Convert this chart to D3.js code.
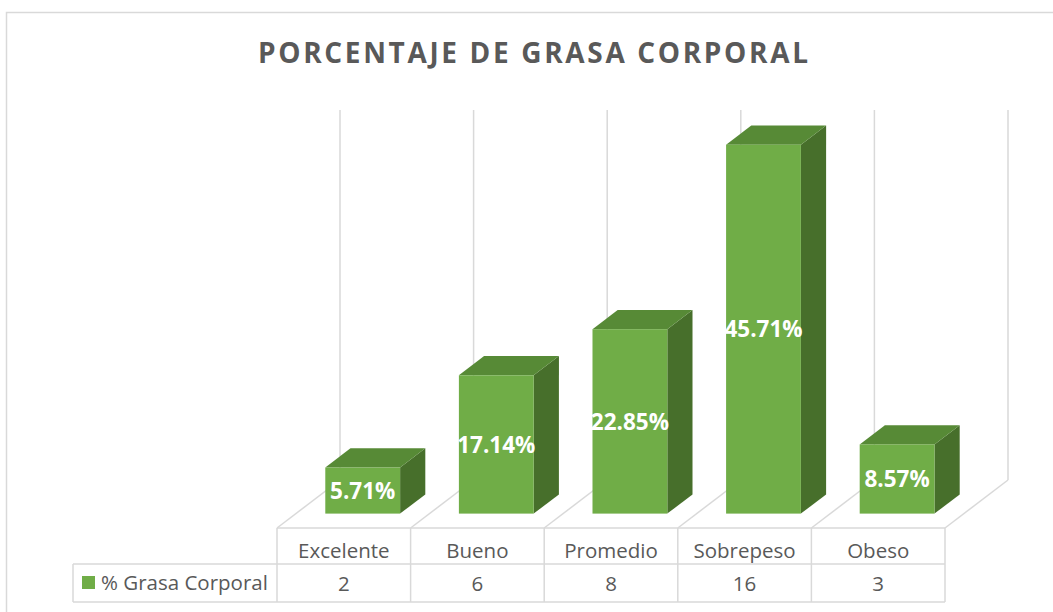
<!DOCTYPE html>
<html>
<head>
<meta charset="utf-8">
<script src="https://cdn.jsdelivr.net/npm/d3@7"></script>
<style>
    body { margin: 0; background: #ffffff; }
    svg { display: block; }
</style>
</head>
<body>
<div id="chart"></div>
<script>
// data
var categories = ["Excelente", "Bueno", "Promedio", "Sobrepeso", "Obeso"];
var counts = [2, 6, 8, 16, 3];
var percents = [5.71, 17.14, 22.85, 45.71, 8.57];
var percentLabels = ["5.71%", "17.14%", "22.85%", "45.71%", "8.57%"];
var seriesName = "% Grasa Corporal";
var title = "PORCENTAJE DE GRASA CORPORAL";

var width = 1053, height = 612;
var gridColor = "#d9d9d9", textColor = "#595959";

var svg = d3.select("#chart")
    .append("svg")
    .attr("width", width)
    .attr("height", height);

// outer chart border (runs past the picture edge)
svg.append("rect")
    .attr("x", 6.5)
    .attr("y", 12.5)
    .attr("width", 1060)
    .attr("height", 620)
    .attr("fill", "#ffffff")
    .attr("stroke", gridColor)
    .attr("stroke-width", 1.5);

// title
svg.append("text")
    .attr("x", 533)
    .attr("y", 63)
    .attr("text-anchor", "middle")
    .attr("textLength", 550)
    .attr("lengthAdjust", "spacing")
    .style("font-family", "Open Sans")
    .style("font-weight", "bold")
    .style("font-size", "28px")
    .style("fill", textColor)
    .text(title);

// scales
var floorFront = 528;            // front edge of the floor
var depth = { dx: 63, dy: -48 }; // full depth of the floor

var x = d3.scaleBand()
    .domain(categories)
    .range([277, 945]);

var y = d3.scaleLinear()
    .domain([0, 50])
    .range([0, 403.5]);

var wallMax = 45.85;
var barFrac = 0.56;   // bar width / band
var barDepth = 0.4;   // bar depth / floor depth
var barFrontAt = (1 - barDepth) / 2;

// back wall gridlines
var edges = categories.map(function (c) { return x(c); }).concat([x.range()[1]]);
svg.selectAll("line.wall")
    .data(edges)
    .enter()
    .append("line")
    .attr("x1", function (d) { return d + depth.dx; })
    .attr("x2", function (d) { return d + depth.dx; })
    .attr("y1", floorFront + depth.dy)
    .attr("y2", floorFront + depth.dy - y(wallMax))
    .attr("stroke", gridColor)
    .attr("stroke-width", 1.5);

// floor depth lines
svg.selectAll("line.floor")
    .data(edges)
    .enter()
    .append("line")
    .attr("x1", function (d) { return d; })
    .attr("y1", floorFront)
    .attr("x2", function (d) { return d + depth.dx; })
    .attr("y2", floorFront + depth.dy)
    .attr("stroke", gridColor)
    .attr("stroke-width", 1.5);

// bars
var bw = x.bandwidth() * barFrac;
var ddx = depth.dx * barDepth, ddy = depth.dy * barDepth;

var bars = svg.selectAll("g.bar")
    .data(categories.map(function (c, i) { return { cat: c, value: percents[i], label: percentLabels[i] }; }))
    .enter()
    .append("g");

function geom(d) {
    var x0 = x(d.cat) + (x.bandwidth() - bw) / 2 + depth.dx * barFrontAt;
    var yb = floorFront + depth.dy * barFrontAt;
    var yt = yb - y(d.value);
    return { x0: x0, yb: yb, yt: yt };
}

bars.append("polygon")
    .attr("points", function (d) {
        var g = geom(d);
        return [[g.x0 + bw, g.yt], [g.x0 + bw + ddx, g.yt + ddy], [g.x0 + bw + ddx, g.yb + ddy], [g.x0 + bw, g.yb]].join(" ");
    })
    .attr("fill", "#476f2b");

bars.append("polygon")
    .attr("points", function (d) {
        var g = geom(d);
        return [[g.x0, g.yt], [g.x0 + bw, g.yt], [g.x0 + bw + ddx, g.yt + ddy], [g.x0 + ddx, g.yt + ddy]].join(" ");
    })
    .attr("fill", "#578a36");

bars.append("rect")
    .attr("x", function (d) { return geom(d).x0; })
    .attr("y", function (d) { return geom(d).yt; })
    .attr("width", bw)
    .attr("height", function (d) { return y(d.value); })
    .attr("fill", "#70ad47");

bars.append("text")
    .attr("x", function (d) { return geom(d).x0 + bw / 2; })
    .attr("y", function (d) { var g = geom(d); return (g.yt + g.yb) / 2; })
    .attr("dy", "0.36em")
    .attr("text-anchor", "middle")
    .style("font-family", "Open Sans")
    .style("font-weight", "bold")
    .style("font-size", "22.5px")
    .style("fill", "#ffffff")
    .text(function (d) { return d.label; });

// data table
var row1 = 528, row2 = 564, row3 = 602, legendLeft = 73;
var x1 = x.range()[0], x2 = x.range()[1];

var table = svg.append("g")
    .attr("stroke", gridColor)
    .attr("stroke-width", 1.5);

table.append("line").attr("x1", x1).attr("x2", x2).attr("y1", row1).attr("y2", row1);
table.append("line").attr("x1", legendLeft).attr("x2", x2).attr("y1", row2).attr("y2", row2);
table.append("line").attr("x1", legendLeft).attr("x2", x2).attr("y1", row3).attr("y2", row3);
table.append("line").attr("x1", legendLeft).attr("x2", legendLeft).attr("y1", row2).attr("y2", row3);

table.selectAll("line.col")
    .data(edges)
    .enter()
    .append("line")
    .attr("x1", function (d) { return d; })
    .attr("x2", function (d) { return d; })
    .attr("y1", row1)
    .attr("y2", row3);

svg.selectAll("text.cat")
    .data(categories)
    .enter()
    .append("text")
    .attr("x", function (d) { return x(d) + x.bandwidth() / 2; })
    .attr("y", 558)
    .attr("text-anchor", "middle")
    .style("font-family", "Open Sans")
    .style("font-size", "20.5px")
    .style("fill", textColor)
    .text(function (d) { return d; });

svg.selectAll("text.val")
    .data(counts)
    .enter()
    .append("text")
    .attr("x", function (d, i) { return x(categories[i]) + x.bandwidth() / 2; })
    .attr("y", 591)
    .attr("text-anchor", "middle")
    .style("font-family", "Open Sans")
    .style("font-size", "20.5px")
    .style("fill", textColor)
    .text(function (d) { return d; });

// legend key
svg.append("rect")
    .attr("x", 82)
    .attr("y", 576)
    .attr("width", 13)
    .attr("height", 13)
    .attr("fill", "#70ad47");

svg.append("text")
    .attr("x", 101)
    .attr("y", 590)
    .style("font-family", "Open Sans")
    .style("font-size", "20.5px")
    .style("fill", textColor)
    .text(seriesName);
</script>
</body>
</html>
